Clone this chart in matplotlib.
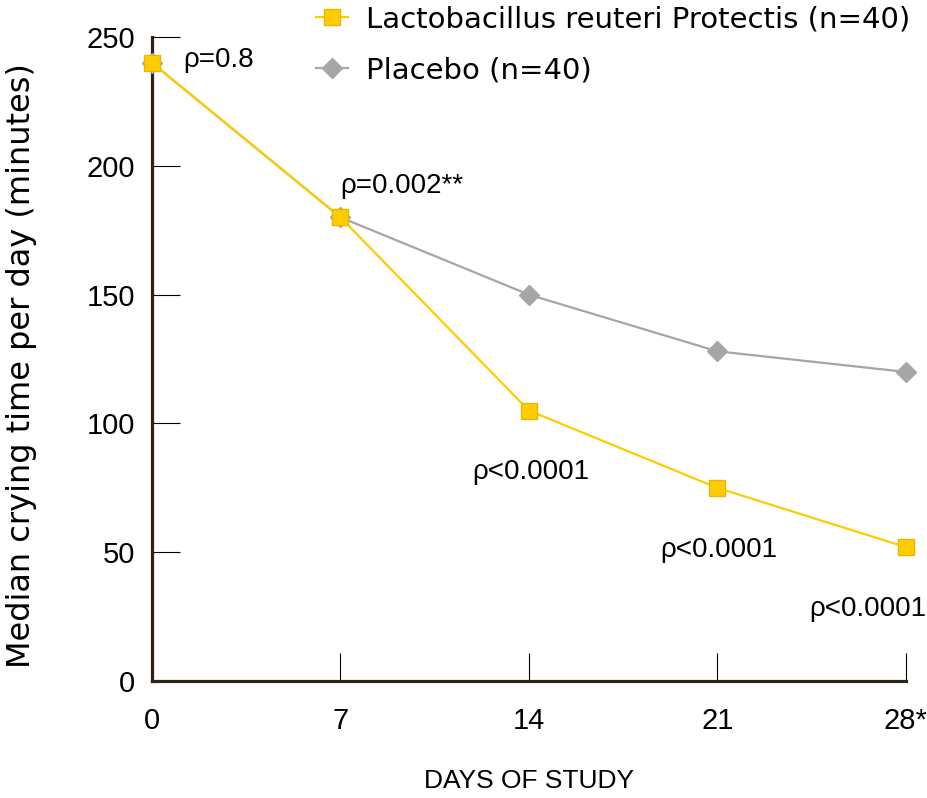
import matplotlib.pyplot as plt
import matplotlib.font_manager as fm

# Data
days = [0, 7, 14, 21, 28]
dayLabels = ['0', '7', '14', '21', '28*']
reuteri = [240, 180, 105, 75, 52]
placebo = [240, 180, 150, 128, 120]
pLabels = ['ρ=0.8', 'ρ=0.002**', 'ρ<0.0001', 'ρ<0.0001', 'ρ<0.0001']
pPos = [(1.15, 241), (7.0, 192), (11.9, 81), (18.9, 51), (24.4, 28)]

yellow = '#FFCC00'
grey = '#A6A6A6'
spineCol = '#2d2318'

names = {f.name for f in fm.fontManager.ttflist}
tickFont = 'Liberation Sans' if 'Liberation Sans' in names else 'DejaVu Sans'
roundFont = 'DejaVu Sans'

fig = plt.figure(figsize=(9.27, 7.98), dpi=100)
ax = fig.add_axes([0.164, 0.1466, 0.813, 0.807])

ax.plot(days, reuteri, color=yellow, lw=1.6, marker='s', ms=11,
        mfc=yellow, mec='#e6b800', clip_on=False, zorder=4,
        label='Lactobacillus reuteri Protectis (n=40)')
ax.plot(days, placebo, color=grey, lw=1.6, marker='D', ms=10,
        mfc=grey, mec=grey, clip_on=False, zorder=3,
        label='Placebo (n=40)')

for txt, (xx, yy) in zip(pLabels, pPos):
    ax.text(xx, yy, txt, fontsize=20, family=tickFont, va='center', ha='left')

ax.set_xlim(0, 28)
ax.set_ylim(0, 250)
ax.set_xticks(days)
ax.set_xticklabels(dayLabels)
ax.set_yticks([0, 50, 100, 150, 200, 250])

for s in ['top', 'right']:
    ax.spines[s].set_visible(False)
for s in ['left', 'bottom']:
    ax.spines[s].set_color(spineCol)
    ax.spines[s].set_linewidth(2.3)

ax.tick_params(axis='both', direction='in', length=20, width=0.8, color='black',
               labelsize=21)
ax.tick_params(axis='x', pad=19)
ax.tick_params(axis='y', pad=12)
for lab in ax.get_xticklabels() + ax.get_yticklabels():
    lab.set_family(tickFont)

ax.set_ylabel('Median crying time per day (minutes)', fontsize=23,
              family=roundFont)
ax.yaxis.set_label_coords(-0.152, 0.49)
ax.set_xlabel('DAYS OF STUDY', fontsize=19, family=tickFont, labelpad=24)

ax.legend(loc='upper left', bbox_to_anchor=(0.183, 1.09), frameon=False,
          prop={'family': roundFont, 'size': 21}, handlelength=1.1,
          labelspacing=0.78, handletextpad=0.6)

fig.savefig('out.png', dpi=100)
